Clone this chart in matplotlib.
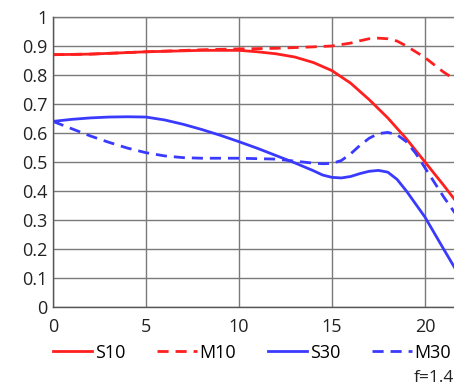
import matplotlib
matplotlib.use('Agg')
import matplotlib.pyplot as plt

plt.rcParams['font.family'] = ['Open Sans', 'DejaVu Sans']

# ── 데이터 ──────────────────────────────────────────────
x_s10 = [0, 2, 5, 8, 10, 11, 12, 13, 14, 15, 16, 17, 18, 19, 20, 21, 21.6]
s10 = [0.87, 0.872, 0.88, 0.885, 0.885, 0.88, 0.873, 0.862, 0.843, 0.815, 0.772, 0.715, 0.652, 0.58, 0.50, 0.42, 0.37]

x_m10 = [0, 2, 5, 8, 10, 12, 14, 15, 16, 16.5, 17, 17.5, 18, 18.5, 19, 20, 21, 21.6]
m10 = [0.87, 0.872, 0.88, 0.887, 0.89, 0.892, 0.897, 0.90, 0.91, 0.918, 0.925, 0.927, 0.925, 0.917, 0.90, 0.86, 0.81, 0.785]

x_s30 = [0, 1, 2, 3, 4, 5, 6, 7, 8, 9, 10, 11, 12, 13, 14, 14.5, 15, 15.5, 16, 16.5, 17, 17.5, 18, 18.5, 19, 20, 21, 21.6]
s30 = [0.64, 0.647, 0.652, 0.655, 0.656, 0.655, 0.645, 0.63, 0.612, 0.592, 0.57, 0.547, 0.522, 0.497, 0.47, 0.455, 0.447, 0.445, 0.45, 0.46, 0.468, 0.471, 0.465, 0.44, 0.40, 0.31, 0.20, 0.135]

x_m30 = [0, 1, 2, 3, 4, 5, 6, 7, 8, 10, 12, 13, 14, 14.5, 15, 15.5, 16, 16.5, 17, 17.5, 18, 18.5, 19, 19.5, 20, 21, 21.6]
m30 = [0.64, 0.615, 0.59, 0.568, 0.548, 0.532, 0.521, 0.515, 0.513, 0.513, 0.51, 0.503, 0.496, 0.494, 0.495, 0.505, 0.528, 0.557, 0.582, 0.598, 0.602, 0.594, 0.57, 0.53, 0.48, 0.38, 0.325]

labels = ['S10', 'M10', 'S30', 'M30']
x_ticks = [0, 5, 10, 15, 20]
y_ticks = [0, 0.1, 0.2, 0.3, 0.4, 0.5, 0.6, 0.7, 0.8, 0.9, 1]
y_ticklabels = ['0', '0.1', '0.2', '0.3', '0.4', '0.5', '0.6', '0.7', '0.8', '0.9', '1']

RED = '#ff1f1f'
BLUE = '#3a3aff'
GRID = '#7a7a7a'

fig = plt.figure(figsize=(4.54, 3.89), dpi=100)
ax = fig.add_axes([0.1167, 0.2108, 0.8833, 0.7455])

h1, = ax.plot(x_s10, s10, color=RED, lw=2.0, label=labels[0])
h2, = ax.plot(x_m10, m10, color=RED, lw=2.0, ls=(0, (4, 2.5)), label=labels[1])
h3, = ax.plot(x_s30, s30, color=BLUE, lw=2.0, label=labels[2])
h4, = ax.plot(x_m30, m30, color=BLUE, lw=2.0, ls=(0, (4, 2.5)), label=labels[3])

ax.set_xlim(0, 21.56)
ax.set_ylim(0, 1)
ax.set_xticks(x_ticks)
ax.set_yticks(y_ticks)
ax.set_yticklabels(y_ticklabels)
ax.tick_params(axis='y', length=0, labelsize=13, colors='#222222', pad=4)
ax.tick_params(axis='x', length=0, labelsize=13, colors='#222222', pad=8)
ax.grid(True, color=GRID, lw=1.0)
ax.set_axisbelow(True)
for side in ['top', 'right']:
    ax.spines[side].set_visible(False)
ax.axhline(1, color=GRID, lw=1.0, clip_on=False)
for side in ['left', 'bottom']:
    ax.spines[side].set_color('#555555')
    ax.spines[side].set_linewidth(1.0)

fig.legend(handles=[h1, h2, h3, h4], loc='upper left', bbox_to_anchor=(0.1, 0.135),
           ncol=4, frameon=False, fontsize=13, handlelength=2.2, handletextpad=0.15,
           columnspacing=1.75, borderaxespad=0)

fig.text(0.912, 0.008, 'f=1.4', fontsize=12.5, color='#222222', ha='left', va='bottom')

fig.savefig('out.png', dpi=100)
